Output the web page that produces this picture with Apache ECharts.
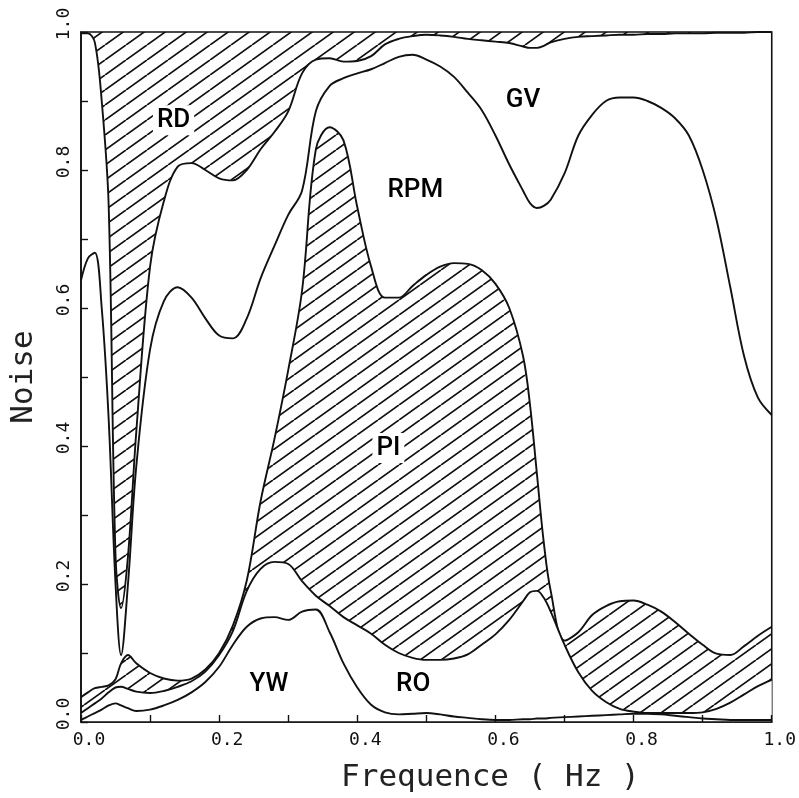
<!DOCTYPE html>
<html>
<head>
<meta charset="utf-8">
<script src="https://cdn.jsdelivr.net/npm/echarts@6/dist/echarts.min.js"></script>
<style>
  html, body { margin: 0; padding: 0; background: #fff; }
  #chart { width: 799px; height: 798px; }
</style>
</head>
<body>
<div id="chart"></div>
<script>
// shared frequency grid (Hz)
const freq = [0, 0.01, 0.02, 0.03, 0.04, 0.05, 0.058, 0.068, 0.08,
  0.1, 0.12, 0.14, 0.16, 0.18, 0.2, 0.22, 0.24, 0.26, 0.28, 0.3, 0.32, 0.34, 0.36, 0.38,
  0.4, 0.42, 0.44, 0.46, 0.48, 0.5, 0.52, 0.54, 0.56, 0.58, 0.6, 0.62, 0.64,
  0.65, 0.66, 0.67, 0.68, 0.7, 0.72, 0.74, 0.76, 0.78, 0.8, 0.82, 0.84, 0.86, 0.88,
  0.9, 0.92, 0.94, 0.96, 0.98, 1.0];

// cumulative noise curves (upper edge of each band)
const ywTop = [0.003, 0.008, 0.013, 0.018, 0.024, 0.027, 0.024, 0.02, 0.016,
  0.018, 0.024, 0.032, 0.043, 0.058, 0.08, 0.112, 0.138, 0.15, 0.152, 0.148, 0.16, 0.163, 0.13, 0.085,
  0.05, 0.025, 0.014, 0.011, 0.012, 0.013, 0.011, 0.008, 0.006, 0.004, 0.003, 0.003, 0.004,
  0.004, 0.005, 0.005, 0.006, 0.007, 0.008, 0.009, 0.01, 0.011, 0.012, 0.012, 0.011, 0.009, 0.007,
  0.005, 0.004, 0.003, 0.003, 0.003, 0.003];

const roTop = [0.013, 0.02, 0.027, 0.034, 0.043, 0.05, 0.051, 0.048, 0.044,
  0.042, 0.045, 0.051, 0.059, 0.073, 0.097, 0.132, 0.19, 0.222, 0.232, 0.229, 0.204, 0.183, 0.168, 0.152,
  0.14, 0.128, 0.112, 0.1, 0.093, 0.09, 0.09, 0.092, 0.098, 0.112, 0.127, 0.148, 0.175,
  0.188, 0.19, 0.18, 0.16, 0.112, 0.072, 0.045, 0.029, 0.019, 0.015, 0.013, 0.013, 0.013, 0.013,
  0.014, 0.019, 0.028, 0.04, 0.052, 0.061];

const piTop = [0.036, 0.043, 0.049, 0.051, 0.053, 0.062, 0.085, 0.097, 0.085,
  0.071, 0.063, 0.06, 0.063, 0.076, 0.1, 0.14, 0.205, 0.32, 0.41, 0.51, 0.625, 0.83, 0.862, 0.843,
  0.746, 0.66, 0.615, 0.615, 0.632, 0.648, 0.66, 0.665, 0.664, 0.655, 0.635, 0.6, 0.53,
  0.46, 0.36, 0.26, 0.19, 0.118, 0.13, 0.155, 0.168, 0.175, 0.176, 0.17, 0.16, 0.145, 0.128,
  0.112, 0.099, 0.097, 0.11, 0.125, 0.138];

const rpmTop = [0.64, 0.672, 0.68, 0.6, 0.44, 0.2, 0.097, 0.2, 0.37,
  0.54, 0.61, 0.63, 0.615, 0.585, 0.56, 0.556, 0.585, 0.643, 0.69, 0.735, 0.77, 0.885, 0.922, 0.933,
  0.94, 0.946, 0.955, 0.964, 0.967, 0.96, 0.95, 0.935, 0.912, 0.887, 0.85, 0.808, 0.77,
  0.752, 0.745, 0.748, 0.757, 0.795, 0.85, 0.88, 0.9, 0.905, 0.905, 0.9, 0.89, 0.875, 0.85,
  0.8, 0.728, 0.63, 0.53, 0.47, 0.445];

const gvTop = [0.998, 0.998, 0.985, 0.9, 0.75, 0.24, 0.165, 0.24, 0.42,
  0.66, 0.755, 0.805, 0.81, 0.8, 0.788, 0.785, 0.8, 0.83, 0.855, 0.885, 0.94, 0.96, 0.962, 0.957,
  0.958, 0.965, 0.982, 0.99, 0.994, 0.996, 0.995, 0.993, 0.99, 0.988, 0.986, 0.984, 0.979,
  0.977, 0.977, 0.98, 0.985, 0.99, 0.993, 0.994, 0.995, 0.996, 0.996, 0.997, 0.997, 0.998, 0.998,
  0.998, 0.999, 0.999, 0.999, 1.0, 1.0];

const xTickLabels = ['0.0', '0.2', '0.4', '0.6', '0.8', '1.0'];
const yTickLabels = ['0.0', '0.2', '0.4', '0.6', '0.8', '1.0'];

// band names and where they are written (freq, noise)
const bandNames = ['RD', 'GV', 'RPM', 'PI', 'YW', 'RO'];
const bandLabelX = [0.134, 0.64, 0.484, 0.445, 0.272, 0.481];
const bandLabelY = [0.872, 0.901, 0.771, 0.397, 0.054, 0.054];

function pairs(ys) {
  return freq.map((f, i) => [f, ys[i]]);
}

function tickText(list) {
  return function (v) {
    const s = v.toFixed(1);
    return list.indexOf(s) >= 0 ? s : '';
  };
}

// diagonal hatching like the printed figure
function makeHatch() {
  const c = document.createElement('canvas');
  c.width = 21;
  c.height = 15;
  const g = c.getContext('2d');
  g.strokeStyle = '#111';
  g.lineWidth = 1.7;
  g.beginPath();
  g.moveTo(0, 15); g.lineTo(21, 0);
  g.moveTo(-21, 15); g.lineTo(0, 0);
  g.moveTo(21, 15); g.lineTo(42, 0);
  g.stroke();
  return c;
}
const hatch = { image: makeHatch(), repeat: 'repeat' };

const ink = '#111';
const lineBase = {
  type: 'line',
  smooth: 0.35,
  showSymbol: false,
  symbol: 'none',
  lineStyle: { color: ink, width: 1.9 },
  silent: true
};

const chart = echarts.init(document.getElementById('chart'));
chart.setOption({
  animation: false,
  backgroundColor: '#fff',
  grid: {
    left: 80, right: 27, top: 32, bottom: 76,
    show: true, borderColor: ink, borderWidth: 1.6, backgroundColor: '#fff'
  },
  xAxis: {
    type: 'value', min: 0, max: 1, interval: 0.1, z: 10,
    name: 'Frequence ( Hz )',
    nameLocation: 'middle',
    nameGap: 40,
    nameTextStyle: { fontFamily: 'DejaVu Sans Mono', fontSize: 31, color: '#222', padding: [0, 0, 0, 128] },
    axisLine: { lineStyle: { color: ink, width: 1.6 } },
    axisTick: { inside: true, length: 7, lineStyle: { color: ink, width: 1.4 } },
    axisLabel: {
      formatter: tickText(xTickLabels), margin: 9,
      fontFamily: 'DejaVu Sans Mono', fontSize: 18, color: '#111', padding: [0, 0, 0, 16]
    },
    splitLine: { show: false }
  },
  yAxis: {
    type: 'value', min: 0, max: 1, interval: 0.1, z: 10,
    name: 'Noise',
    nameLocation: 'middle',
    nameGap: 42,
    nameTextStyle: { fontFamily: 'DejaVu Sans Mono', fontSize: 31, color: '#222' },
    axisLine: { lineStyle: { color: ink, width: 1.6 } },
    axisTick: { inside: true, length: 7, lineStyle: { color: ink, width: 1.4 } },
    axisLabel: {
      formatter: tickText(yTickLabels), rotate: 90, margin: 8,
      fontFamily: 'DejaVu Sans Mono', fontSize: 18, color: '#111', padding: [0, 0, 0, 16]
    },
    splitLine: { show: false }
  },
  series: [
    Object.assign({}, lineBase, {
      name: 'RD', z: 2, data: pairs(gvTop),
      areaStyle: { origin: 'end', color: hatch, opacity: 1 }
    }),
    Object.assign({}, lineBase, { name: 'GV', z: 3, data: pairs(rpmTop) }),
    Object.assign({}, lineBase, {
      name: 'PI', z: 2, data: pairs(piTop),
      areaStyle: { origin: 'start', color: hatch, opacity: 1 }
    }),
    Object.assign({}, lineBase, {
      name: 'RO', z: 3, data: pairs(roTop),
      areaStyle: { origin: 'start', color: '#fff', opacity: 1 }
    }),
    Object.assign({}, lineBase, { name: 'YW', z: 4, data: pairs(ywTop) }),
    {
      type: 'scatter', z: 6, silent: true, symbolSize: 0,
      itemStyle: { opacity: 1 },
      data: bandNames.map((n, i) => ({ name: n, value: [bandLabelX[i], bandLabelY[i]] })),
      label: {
        show: true, position: 'inside', formatter: '{b}',
        fontFamily: "'Liberation Sans Narrow', 'Roboto', sans-serif",
        fontWeight: 500, fontSize: 26, color: '#000', backgroundColor: '#fff', padding: [2, 4]
      }
    }
  ]
});
</script>
</body>
</html>
